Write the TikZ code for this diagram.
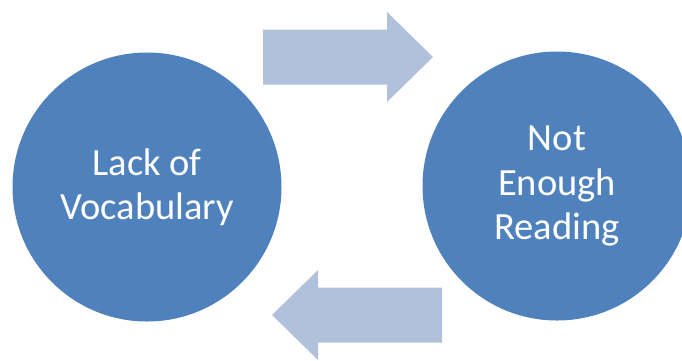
\documentclass[tikz,border=0pt]{standalone}
\usepackage{fontspec}
\setmainfont{Carlito}
\definecolor{circblue}{HTML}{4F81BD}
\definecolor{arrblue}{HTML}{B2C1DB}
\begin{document}
\begin{tikzpicture}[x=1pt,y=-1pt,
  cyclenode/.style={circle, fill=circblue, minimum size=269pt, inner sep=0pt,
    text=white, align=center, font=\fontsize{38.5}{44.5}\selectfont},
  arrowshape/.style={fill=arrblue, draw=none}]
\useasboundingbox (0,0) rectangle (682,360);
\clip (0,0) rectangle (682,360);
\node[cyclenode] (lack) at (147,187) {Lack of\\Vocabulary};
\node[cyclenode] (read) at (557,186) {Not\\Enough\\Reading};
% top arrow (right)
\path[arrowshape] (263,29.5) -- (387,29.5) -- (387,12) -- (433,57) -- (387,102) -- (387,84.5) -- (263,84.5) -- cycle;
% bottom arrow (left)
\path[arrowshape] (442,287.5) -- (318,287.5) -- (318,270) -- (272,315) -- (318,360) -- (318,342.5) -- (442,342.5) -- cycle;
\end{tikzpicture}
\end{document}
